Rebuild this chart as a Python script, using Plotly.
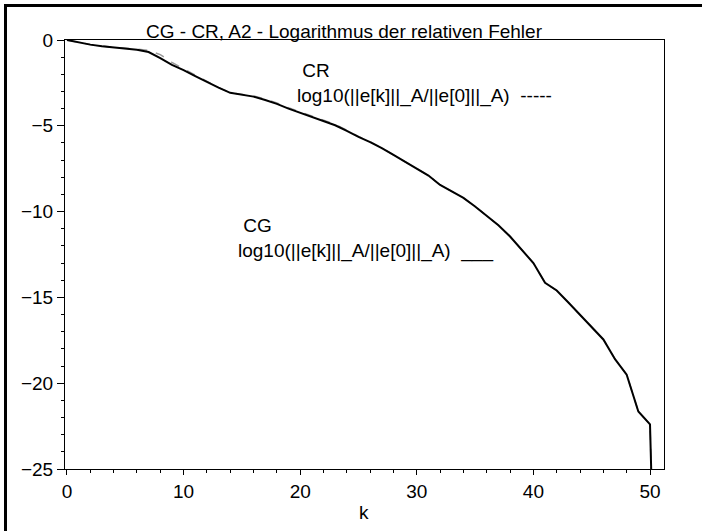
import plotly.graph_objects as go

k = list(range(0, 52))
cg = [0, -0.15, -0.27, -0.36, -0.43, -0.5, -0.57, -0.7, -1.05, -1.45,
      -1.75, -2.1, -2.45, -2.78, -3.08, -3.2, -3.3, -3.5, -3.72, -4.0,
      -4.25, -4.5, -4.72, -4.97, -5.3, -5.65, -5.95, -6.3, -6.7, -7.1,
      -7.5, -7.9, -8.45, -8.85, -9.2, -9.7, -10.25, -10.8, -11.45, -12.2,
      -13.0, -14.15, -14.6, -15.3, -16.0, -16.7, -17.45, -18.6, -19.5, -21.65,
      -22.4, -48]
cr = [0, -0.14, -0.26, -0.35, -0.42, -0.48, -0.53, -0.6, -0.85, -1.3,
      -1.68, -2.05, -2.43, -2.77, -3.07, -3.18, -3.26, -3.45, -3.67, -3.95,
      -4.2, -4.45, -4.67, -4.92, -5.26, -5.62, -5.93, -6.29, -6.7, -7.1,
      -7.5, -7.9, -8.45, -8.85, -9.2, -9.7, -10.25, -10.8, -11.45, -12.2,
      -13.0, -14.15, -14.6, -15.3, -16.0, -16.7, -17.45, -18.6, -19.5, -21.65,
      -22.4, -48]

title_text = "CG - CR, A2 - Logarithmus der relativen Fehler"
label_text = "log10(||e[k]||_A/||e[0]||_A)"
FONT = "Liberation Sans, Arial, sans-serif"
FS = 19

fig = go.Figure()
fig.add_trace(go.Scatter(x=k, y=cr, mode="lines", name="CR",
                         line=dict(color="#9a9a9a", width=1.5, dash="dash")))
fig.add_trace(go.Scatter(x=k, y=cg, mode="lines", name="CG",
                         line=dict(color="black", width=2)))

W, H = 702, 531
L, R, T, B = 65, 38, 40, 62
pw, ph = W - L - R, H - T - B

def px(xp):
    return (xp - L) / pw

def py(yp):
    return (H - B - yp) / ph

fig.update_layout(
    width=W, height=H,
    margin=dict(l=L, r=R, t=T, b=B),
    paper_bgcolor="white", plot_bgcolor="white",
    showlegend=False,
    font=dict(family=FONT, size=FS, color="black"),
    title=dict(text=title_text, x=344 / W, xanchor="center", xref="container",
               y=1 - 31 / H, yanchor="middle", yref="container",
               font=dict(size=FS, color="black")),
)
fig.update_xaxes(range=[-0.17, 51.2], showgrid=False, zeroline=False,
                 showline=True, linecolor="black", linewidth=1, mirror=True,
                 ticks="outside", ticklen=5, tickcolor="black", dtick=10, tick0=0,
                 minor=dict(dtick=2, ticks="outside", ticklen=3, tickcolor="black"),
                 tickfont=dict(size=FS))
fig.update_yaxes(range=[-25, 0], showgrid=False, zeroline=False,
                 showline=True, linecolor="black", linewidth=1, mirror=True,
                 ticks="outside", ticklen=7, tickcolor="black", dtick=5, tick0=0,
                 minor=dict(dtick=1, ticks="outside", ticklen=3, tickcolor="black"),
                 tickfont=dict(size=FS))

def ann(text, xp, yp):
    fig.add_annotation(text=text, xref="paper", yref="paper", x=px(xp), y=py(yp),
                       xanchor="left", yanchor="middle", align="left",
                       showarrow=False, font=dict(size=FS, color="black"))

ann("\u00a0CR<br>" + label_text + "\u00a0\u00a0-----", 295, 84)
ann("\u00a0CG<br>" + label_text + "\u00a0\u00a0___", 236, 239)

fig.add_annotation(text="k", xref="paper", yref="paper", x=px(364), y=py(512),
                   xanchor="center", yanchor="middle", showarrow=False,
                   font=dict(size=FS, color="black"))

# outer frame (top and left)
fig.add_shape(type="line", xref="paper", yref="paper",
              x0=px(5.5), y0=py(H + 5), x1=px(5.5), y1=py(5.5),
              line=dict(color="black", width=3))
fig.add_shape(type="line", xref="paper", yref="paper",
              x0=px(4), y0=py(5.5), x1=px(W + 5), y1=py(5.5),
              line=dict(color="black", width=3))

fig.write_html("out.html")
